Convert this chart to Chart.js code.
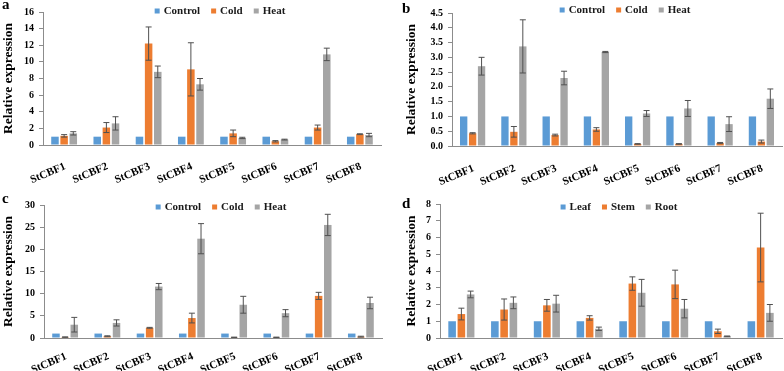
<!DOCTYPE html>
<html>
<head>
<meta charset="utf-8">
<script src="https://cdn.jsdelivr.net/npm/chart.js@4.4.0/dist/chart.umd.min.js"></script>
<style>
  body { margin: 0; background: #fff; }
  #wrap { position: relative; width: 784px; height: 371px; }
  canvas { position: absolute; }
</style>
</head>
<body>
<div id="wrap">
  <canvas id="chartA" width="392" height="185" style="left:0;top:0"></canvas>
  <canvas id="chartB" width="392" height="185" style="left:392px;top:0"></canvas>
  <canvas id="chartC" width="392" height="186" style="left:0;top:185px"></canvas>
  <canvas id="chartD" width="392" height="186" style="left:392px;top:185px"></canvas>
</div>
<script>
const genes = ["StCBF1", "StCBF2", "StCBF3", "StCBF4", "StCBF5", "StCBF6", "StCBF7", "StCBF8"];
const stressNames = ["Control", "Cold", "Heat"];
const tissueNames = ["Leaf", "Stem", "Root"];

// panel a
const controlA = [1, 1, 1, 1, 1, 1, 1, 1];
const coldA = [1.1, 2.1, 12.2, 9.1, 1.4, 0.45, 2.1, 1.3];
const coldErrA = [0.15, 0.6, 2.0, 3.2, 0.4, 0.08, 0.3, 0.05];
const heatA = [1.4, 2.6, 8.8, 7.3, 0.85, 0.65, 10.9, 1.2];
const heatErrA = [0.2, 0.8, 0.7, 0.7, 0.08, 0.05, 0.75, 0.2];
const ticksA = [0, 2, 4, 6, 8, 10, 12, 14, 16];

// panel b
const controlB = [1, 1, 1, 1, 1, 1, 1, 1];
const coldB = [0.43, 0.48, 0.37, 0.56, 0.07, 0.07, 0.1, 0.15];
const coldErrB = [0.02, 0.18, 0.03, 0.06, 0.01, 0.01, 0.02, 0.05];
const heatB = [2.7, 3.37, 2.3, 3.18, 1.1, 1.27, 0.74, 1.6];
const heatErrB = [0.3, 0.9, 0.23, 0.02, 0.1, 0.27, 0.25, 0.33];
const ticksB = [0, 0.5, 1, 1.5, 2, 2.5, 3, 3.5, 4, 4.5];

// panel c
const controlC = [1, 1, 1, 1, 1, 1, 1, 1];
const coldC = [0.2, 0.4, 2.3, 4.5, 0.15, 0.15, 9.5, 0.3];
const coldErrC = [0.05, 0.1, 0.1, 1.1, 0.05, 0.05, 0.8, 0.1];
const heatC = [3.0, 3.4, 11.6, 22.4, 7.5, 5.6, 25.5, 7.9];
const heatErrC = [1.65, 0.7, 0.7, 3.4, 1.9, 0.8, 2.4, 1.3];
const ticksC = [0, 5, 10, 15, 20, 25, 30];

// panel d
const leafD = [1, 1, 1, 1, 1, 1, 1, 1];
const stemD = [1.43, 1.7, 1.95, 1.2, 3.25, 3.2, 0.4, 5.4];
const stemErrD = [0.35, 0.63, 0.35, 0.13, 0.4, 0.85, 0.13, 2.05];
const rootD = [2.6, 2.1, 2.05, 0.55, 2.7, 1.75, 0.1, 1.5];
const rootErrD = [0.2, 0.35, 0.5, 0.1, 0.8, 0.55, 0.02, 0.5];
const ticksD = [0, 1, 2, 3, 4, 5, 6, 7, 8];

const colors = ["#5B9BD5", "#ED7D31", "#A5A5A5"];
const serif = "'Liberation Serif', 'Times New Roman', serif";

// draws the +/- error whiskers on top of the bars
const errorBars = {
  id: "errorBars",
  afterDatasetsDraw(chart) {
    const ctx = chart.ctx;
    const y = chart.scales.y;
    chart.data.datasets.forEach((ds, i) => {
      if (!ds.errors) return;
      const meta = chart.getDatasetMeta(i);
      meta.data.forEach((bar, j) => {
        const v = ds.data[j];
        const e = ds.errors[j];
        const top = y.getPixelForValue(v + e);
        const bot = y.getPixelForValue(Math.max(v - e, 0));
        ctx.save();
        ctx.strokeStyle = "#505050";
        ctx.lineWidth = 1;
        ctx.beginPath();
        ctx.moveTo(bar.x, top);
        ctx.lineTo(bar.x, bot);
        ctx.moveTo(bar.x - 3, top);
        ctx.lineTo(bar.x + 3, top);
        ctx.moveTo(bar.x - 3, bot);
        ctx.lineTo(bar.x + 3, bot);
        ctx.stroke();
        ctx.restore();
      });
    });
  },
};

// legend inside the plot + panel letter
const panelDecor = {
  id: "panelDecor",
  afterDraw(chart, args, opts) {
    const ctx = chart.ctx;
    const area = chart.chartArea;
    ctx.save();
    ctx.font = "bold 11px " + serif;
    ctx.textBaseline = "middle";
    const items = chart.data.datasets.map((ds) => ({
      label: ds.label,
      color: ds.backgroundColor,
      w: 9 + ctx.measureText(ds.label).width,
    }));
    const gap = 11;
    let total = items.reduce((s, it) => s + it.w, 0) + gap * (items.length - 1);
    let x = (area.left + area.right) / 2 + opts.shift - total / 2;
    items.forEach((it) => {
      ctx.fillStyle = it.color;
      ctx.fillRect(x, opts.legendY - 2.5, 5, 5);
      ctx.fillStyle = "#1a1a1a";
      ctx.fillText(it.label, x + 9, opts.legendY + 0.5);
      x += it.w + gap;
    });
    ctx.font = "bold 15px " + serif;
    ctx.textBaseline = "alphabetic";
    ctx.fillStyle = "#000";
    ctx.fillText(opts.letter, opts.letterX, opts.letterY);
    ctx.restore();
  },
};

function makeChart(id, names, series, errs, tickVals, decimals, lay) {
  const datasets = series.map((s, i) => ({
    label: names[i],
    data: s,
    errors: errs[i],
    backgroundColor: colors[i],
    categoryPercentage: 0.65,
    barPercentage: 0.82,
  }));
  return new Chart(document.getElementById(id), {
    type: "bar",
    data: { labels: genes, datasets: datasets },
    plugins: [errorBars, panelDecor],
    options: {
      responsive: false,
      animation: false,
      layout: { padding: { left: lay.padLeft, right: lay.padRight, top: lay.padTop, bottom: 0 } },
      plugins: {
        legend: { display: false },
        tooltip: { enabled: false },
        panelDecor: { letter: lay.letter, letterX: lay.letterX, letterY: lay.letterY, legendY: lay.legendY, shift: 8 },
      },
      scales: {
        x: {
          grid: { display: false },
          border: { display: true, color: "#8c8c8c", width: 1 },
          ticks: {
            color: "#000",
            font: { family: serif, size: 11, weight: "bold" },
            autoSkip: false,
            minRotation: 23,
            maxRotation: 23,
            padding: lay.labelPad,
            labelOffset: 1,
          },
          afterFit: (scale) => { scale.height = lay.xHeight; },
        },
        y: {
          min: tickVals[0],
          max: tickVals[tickVals.length - 1],
          afterBuildTicks: (scale) => { scale.ticks = tickVals.map((v) => ({ value: v })); },
          grid: { drawOnChartArea: false, drawTicks: true, tickLength: 4, color: "#8c8c8c" },
          border: { display: true, color: "#8c8c8c", width: 1 },
          ticks: {
            color: "#000",
            padding: 5,
            autoSkip: false,
            font: { family: serif, size: 10, weight: "bold" },
            callback: (v) => v.toFixed(decimals),
          },
          title: {
            display: true,
            text: "Relative expression",
            color: "#000",
            padding: 0,
            font: { family: serif, size: 13.5, weight: "bold" },
          },
          afterFit: (scale) => { scale.width = lay.yWidth; },
        },
      },
    },
  });
}

makeChart("chartA", stressNames, [controlA, coldA, heatA], [null, coldErrA, heatErrA], ticksA, 0,
  { padLeft: 0, yWidth: 43, padRight: 11, padTop: 12, xHeight: 40, labelPad: 7, letter: "a", letterX: 2, letterY: 9, legendY: 11 });
makeChart("chartB", stressNames, [controlB, coldB, heatB], [null, coldErrB, heatErrB], ticksB, 1,
  { padLeft: 11, yWidth: 49, padRight: 2, padTop: 13, xHeight: 39, labelPad: 8, letter: "b", letterX: 10, letterY: 13, legendY: 10 });
makeChart("chartC", stressNames, [controlC, coldC, heatC], [null, coldErrC, heatErrC], ticksC, 0,
  { padLeft: 0, yWidth: 44, padRight: 10, padTop: 20, xHeight: 33, labelPad: 4, letter: "c", letterX: 2, letterY: 18, legendY: 22 });
makeChart("chartD", tissueNames, [leafD, stemD, rootD], [null, stemErrD, rootErrD], ticksD, 0,
  { padLeft: 11, yWidth: 37, padRight: 2, padTop: 19, xHeight: 33, labelPad: 4, letter: "d", letterX: 10, letterY: 23, legendY: 22 });
</script>
</body>
</html>
